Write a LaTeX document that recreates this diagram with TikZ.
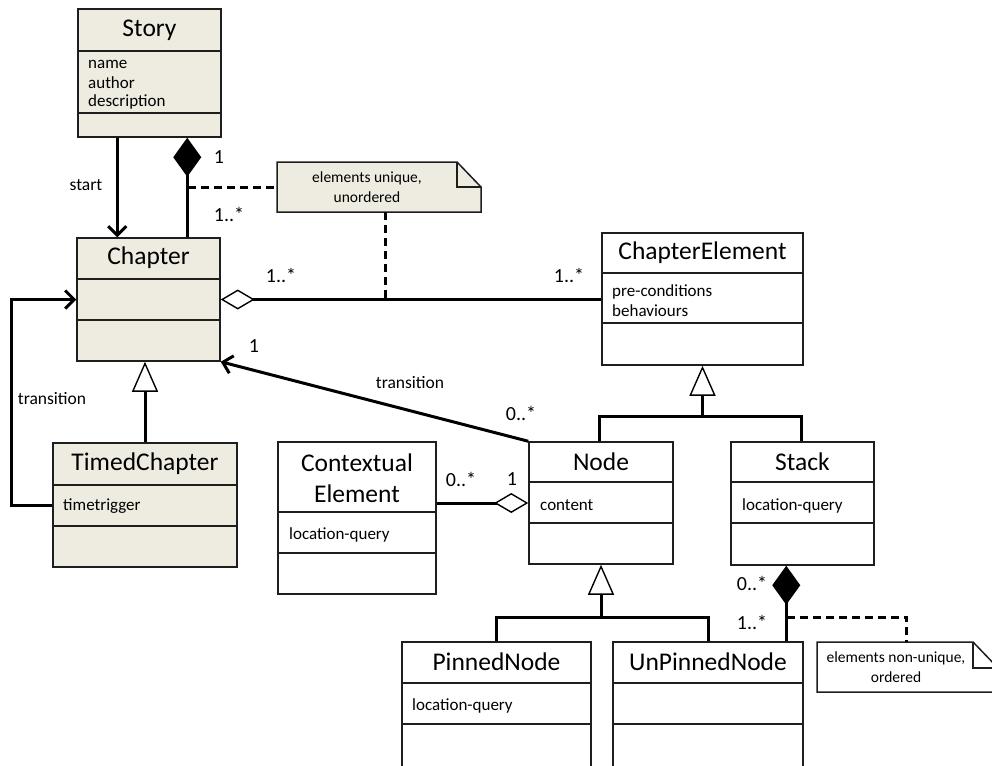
\documentclass[tikz,border=0pt]{standalone}
\usepackage{fontspec}
\setmainfont{Carlito}
\usetikzlibrary{arrows.meta,fit}
\definecolor{beige}{RGB}{238,236,225}
\definecolor{edge}{RGB}{30,30,30}
\tikzset{
  box/.style={draw=edge, line width=1.5pt, inner sep=0pt},
  divl/.style={draw=edge, line width=1.5pt},
  ttl/.style={font=\fontsize{25.5}{30}\selectfont, inner sep=0pt},
  attr/.style={font=\fontsize{17}{20}\selectfont, anchor=west, inner sep=0pt},
  lbl/.style={font=\fontsize{17.5}{20}\selectfont, inner sep=0pt},
  mult/.style={font=\fontsize{20}{23}\selectfont, inner sep=0pt},
  notetxt/.style={font=\fontsize{15.5}{18}\selectfont, inner sep=0pt},
  conn/.style={line width=3pt, black},
  dashl/.style={line width=3pt, black, dash pattern=on 8pt off 5pt},
  openarr/.style={-{Straight Barb[length=9pt,width=18pt]}},
  gentip/.style={-{Triangle[open,length=30pt,width=26pt,line width=1.4pt,fill=white]}},
  compo/.style={{Diamond[length=39pt,width=28pt]}-},
  aggr/.style={{Diamond[open,length=34pt,width=20pt,line width=1.4pt,fill=white]}-},
}
\begin{document}
\begin{tikzpicture}[x=1pt,y=-1pt]
\useasboundingbox (0,0) rectangle (992,765);
\clip (0,0) rectangle (992,765);

% ---------- Story ----------
\node[box, fill=beige, fit={(78,9) (221,137)}] (story) {};
\draw[divl] (78,51) -- (221,51) (78,113) -- (221,113);
\node[ttl] at (149.5,30) {Story};
\node[attr] at (88,64) {name};
\node[attr] at (88,83) {author};
\node[attr] at (88,102) {description};

% ---------- Chapter ----------
\node[box, fill=beige, fit={(77,238) (220,361)}] (chapter) {};
\draw[divl] (77,279) -- (220,279) (77,320) -- (220,320);
\node[ttl] at (148.5,258) {Chapter};

% ---------- TimedChapter ----------
\node[box, fill=beige, fit={(53,443) (237,567)}] (timed) {};
\draw[divl] (53,485) -- (237,485) (53,526) -- (237,526);
\node[ttl] at (145,464) {TimedChapter};
\node[attr] at (63,506) {timetrigger};

% ---------- ChapterElement ----------
\node[box, fill=white, fit={(602,233) (803,365)}] (chel) {};
\draw[divl] (602,273) -- (803,273) (602,323) -- (803,323);
\node[ttl] at (702.5,253) {ChapterElement};
\node[attr] at (612,292) {pre-conditions};
\node[attr] at (612,311) {behaviours};

% ---------- Node ----------
\node[box, fill=white, fit={(529,442) (673,564)}] (node) {};
\draw[divl] (529,482) -- (673,482) (529,523) -- (673,523);
\node[ttl] at (601,462) {Node};
\node[attr] at (540,505) {content};

% ---------- Stack ----------
\node[box, fill=white, fit={(731,442) (874,565)}] (stack) {};
\draw[divl] (731,482) -- (874,482) (731,523) -- (874,523);
\node[ttl] at (802.5,462) {Stack};
\node[attr] at (742,506) {location-query};

% ---------- Contextual Element ----------
\node[box, fill=white, fit={(278,442) (436,594)}] (ctx) {};
\draw[divl] (278,512) -- (436,512) (278,553) -- (436,553);
\node[ttl] at (357,463) {Contextual};
\node[ttl] at (357,494) {Element};
\node[attr] at (289,535) {location-query};

% ---------- PinnedNode ----------
\node[box, fill=white, fit={(402,642) (591,790)}] (pinned) {};
\draw[divl] (402,683) -- (591,683) (402,724) -- (591,724);
\node[ttl] at (496.5,662) {PinnedNode};
\node[attr] at (412,706) {location-query};

% ---------- UnPinnedNode ----------
\node[box, fill=white, fit={(613,642) (803,790)}] (unpinned) {};
\draw[divl] (613,683) -- (803,683) (613,724) -- (803,724);
\node[ttl] at (708,662) {UnPinnedNode};

% ---------- Note 1 ----------
\node[inner sep=0pt, fit={(277,162) (481,212)}] (note1) {};
\draw[divl, fill=beige] (277,162) -- (457,162) -- (481,187) -- (481,212) -- (277,212) -- cycle;
\draw[divl] (457,162) -- (457,187) -- (481,187);
\node[notetxt] at (367,178) {elements unique,};
\node[notetxt] at (367,197) {unordered};

% ---------- Note 2 ----------
\node[inner sep=0pt, fit={(817,642) (998,692)}] (note2) {};
\draw[divl, fill=white] (817,642) -- (973,642) -- (998,668) -- (998,692) -- (817,692) -- cycle;
\draw[divl] (973,642) -- (973,668) -- (998,668);
\node[notetxt] at (896,658) {elements non-unique,};
\node[notetxt] at (896,677) {ordered};

% ---------- Connectors ----------
% start
\draw[conn, openarr] ([xshift=40pt]story.south west) -- ([xshift=41pt]chapter.north west);
\node[lbl] at (86,185) {start};

% Story <>-- Chapter (composition)
\draw[conn, compo] ([xshift=110pt]story.south west) -- ([xshift=111pt]chapter.north west);
\node[mult] at (219,157) {1};
\node[mult] at (229,214) {1..*};
\coordinate (c1) at (188,187);
\draw[dashl] (c1) -- (note1.west);

% Chapter <>-- ChapterElement (aggregation)
\draw[conn, aggr] (chapter.east) -- (chapter.east -| chel.west);
\node[mult] at (281,275) {1..*};
\node[mult] at (569,275) {1..*};
\coordinate (c3) at ([xshift=109pt]note1.south west |- chapter.east);
\draw[dashl] ([xshift=109pt]note1.south west) -- (c3);

% Node -> Chapter transition
\draw[conn, openarr] (node.north west) -- (chapter.south east);
\node[lbl] at (410,383) {transition};
\node[mult] at (521,413) {0..*};
\node[mult] at (254,346) {1};

% TimedChapter -|> Chapter
\draw[conn, gentip] (timed.north) -- (timed.north |- chapter.south);

% transition loop
\draw[conn, openarr] (timed.west) -- ++(-41,0) |- (chapter.west);
\node[lbl] at (52,399) {transition};

% Node, Stack -|> ChapterElement
\coordinate (j1) at (702.5,416);
\draw[conn, gentip] (j1) -- (chel.south);
\draw[conn] ([xshift=71pt]node.north west) |- (j1) -| ([xshift=71pt]stack.north west);

% Pinned, UnPinned -|> Node
\coordinate (j2) at (601,617);
\draw[conn, gentip] (j2) -- (node.south);
\draw[conn] (pinned.north) |- (j2) -| (unpinned.north);

% ContextualElement --<> Node
\draw[conn, aggr] (node.west) -- (node.west -| ctx.east);
\node[mult] at (461,479) {0..*};
\node[mult] at (512,479) {1};

% Stack <>-- UnPinnedNode (composition)
\draw[conn, compo] ([xshift=56pt]stack.south west) -- ([xshift=174pt]unpinned.north west);
\node[mult] at (752,583) {0..*};
\node[mult] at (752,622) {1..*};
\coordinate (c2) at (787,617);
\draw[dashl] (c2) -| ([xshift=90pt]note2.north west);
\end{tikzpicture}
\end{document}
